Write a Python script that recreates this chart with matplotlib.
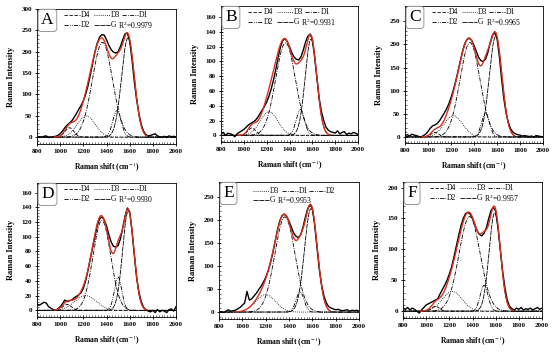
"""Raman spectra with D4/D3/D1/D2/G band deconvolution, six samples."""

import matplotlib.pyplot as plt
import numpy as np
from matplotlib.ticker import AutoMinorLocator, MultipleLocator

plt.rcParams["font.family"] = "Liberation Serif"
plt.rcParams["mathtext.fontset"] = "stix"

# Raman shift grid of the measured spectra (cm-1)
SHIFT = list(range(800, 2001, 20))

SPEC_A = [0, 1, 0, 2, 3, -1, 0, 1, 2, 4, 8, 14, 22, 28, 33, 38, 46, 55, 65, 74,
          85, 100, 120, 145, 172, 200, 220, 234, 240, 239, 228, 215, 205, 199, 197,
          200, 212, 228, 242, 244, 225, 182, 130, 88, 55, 30, 14, 6, 3, 4, 6, 8, 3,
          1, 0, 2, 0, 3, 1, 2, 0]
SPEC_B = [2, 4, 0, 3, 2, 1, -2, 2, 4, 6, 8, 11, 14, 16, 18, 20, 24, 29, 34, 39,
          45, 53, 63, 75, 89, 105, 119, 128, 131, 127, 120, 112, 106, 103, 102,
          106, 115, 126, 134, 137, 130, 106, 78, 50, 32, 20, 11, 7, 5, 4, 3, 6, 2,
          4, 5, 1, 3, 2, 4, 3, 1]
SPEC_C = [3, 5, 2, 6, 4, 3, 1, 0, 3, 6, 12, 19, 24, 26, 29, 35, 43, 51, 60, 71,
          85, 101, 120, 141, 163, 185, 202, 211, 213, 209, 198, 185, 172, 165, 163,
          168, 182, 203, 220, 225, 214, 175, 125, 82, 50, 30, 17, 10, 7, 5, 4, 2, 3,
          2, 1, 2, 0, 3, 2, 1, 0]
SPEC_D = [8, 7, 9, 11, 10, 5, 3, 1, 0, 2, 5, 9, 14, 12, 13, 14, 17, 19, 21, 24,
          30, 40, 54, 70, 85, 100, 115, 124, 127, 123, 115, 103, 93, 87, 86,
          88, 97, 112, 128, 139, 134, 108, 75, 45, 25, 12, 4, 1, -1, -2, 0, -3, 1,
          -2, 0, -1, -3, 1, 2, -1, 5]
SPEC_E = [0, 1, -1, 2, 5, 2, 3, 4, 7, 10, 15, 20, 45, 26, 29, 35, 41, 49, 56, 65,
          75, 89, 106, 127, 152, 178, 198, 210, 213, 208, 198, 185, 172, 165, 162,
          168, 185, 206, 225, 233, 226, 190, 140, 92, 58, 35, 20, 12, 9, 7, 5, 6, 4,
          3, 4, 5, 2, 4, 3, 4, 2]
SPEC_F = [5, 3, 6, 2, 5, 3, 0, -3, 2, 6, 10, 12, 14, 16, 18, 20, 28, 35, 42, 50,
          60, 72, 88, 105, 122, 138, 150, 158, 160, 157, 150, 140, 130, 124, 122,
          126, 135, 150, 163, 168, 162, 135, 100, 65, 38, 18, 8, 4, 2, 5, 3, 6, 2,
          4, 3, 5, 2, 4, 6, 3, 5]

# fitted bands: (centre cm-1, height, FWHM)
PEAKS_A = {"D4": (1080, 22, 90), "D3": (1225, 50, 180), "D1": (1365, 222, 205),
           "D2": (1490, 62, 85), "G": (1585, 232, 130)}
PEAKS_B = {"D4": (1070, 10, 80), "D3": (1220, 32, 180), "D1": (1365, 125, 205),
           "D2": (1495, 35, 85), "G": (1588, 130, 120)}
PEAKS_C = {"D4": (1060, 10, 80), "D3": (1220, 46, 190), "D1": (1365, 204, 205),
           "D2": (1500, 52, 80), "G": (1588, 217, 130)}
PEAKS_D = {"D4": (1060, 8, 90), "D3": (1220, 20, 220), "D1": (1360, 122, 180),
           "D2": (1500, 45, 75), "G": (1588, 135, 115)}
PEAKS_E = {"D3": (1200, 38, 200), "D1": (1365, 207, 205), "D2": (1495, 44, 80),
           "G": (1588, 225, 130)}
PEAKS_F = {"D4": (1080, 8, 80), "D3": (1225, 32, 200), "D1": (1375, 153, 215),
           "D2": (1500, 42, 80), "G": (1592, 159, 115)}

LETTERS = ["A", "B", "C", "D", "E", "F"]
R2 = ["0.9979", "0.9931", "0.9965", "0.9930", "0.9953", "0.9957"]
Y_MAX = [300, 160, 250, 160, 250, 200]
Y_STEP = [50, 20, 50, 20, 50, 50]
Y_LIM = [(-16, 300), (-9, 175), (-13, 283), (-9, 173), (-15, 283), (-11, 209)]

SPECTRA = [SPEC_A, SPEC_B, SPEC_C, SPEC_D, SPEC_E, SPEC_F]
PEAKS = [PEAKS_A, PEAKS_B, PEAKS_C, PEAKS_D, PEAKS_E, PEAKS_F]

# axes boxes in pixels: left, right, top, bottom
BOXES = [(37, 176, 9, 144), (221, 358, 6, 142), (405, 543, 6, 143),
         (37, 176, 183, 317), (219, 359, 182, 319), (403, 542, 182, 318)]

STYLES = {
    "D4": (0, (4, 2)),
    "D3": (0, (1, 1.5)),
    "D1": (0, (5, 1.5, 1, 1.5)),
    "D2": (0, (5, 1.5, 1, 1.5, 1, 1.5)),
    "G": (0, (6, 1)),
}

# legend slots (axes fraction): (line start x, row y)
LEGEND_FULL = {"D4": (0.195, 0.955), "D3": (0.41, 0.955), "D1": (0.61, 0.955),
               "D2": (0.195, 0.88), "G": (0.41, 0.88), "R2": (0.585, 0.88)}
LEGEND_E = {"D3": (0.24, 0.935), "D1": (0.45, 0.935), "D2": (0.645, 0.935),
            "G": (0.24, 0.865), "R2": (0.415, 0.865)}

W, H = 554, 352


def band(x, centre, height, fwhm):
    return height * np.exp(-4 * np.log(2) * (x - centre) ** 2 / fwhm ** 2)


fig = plt.figure(figsize=(W / 100, H / 100), dpi=100)
grid = np.linspace(800, 2000, 601)
fit_mask = (grid >= 950) & (grid <= 1750)

for i in range(6):
    left, right, top, bottom = BOXES[i]
    ax = fig.add_axes([left / W, 1 - bottom / H, (right - left) / W, (bottom - top) / H])

    ax.plot(SHIFT, SPECTRA[i], color="black", linewidth=1.0, zorder=3)

    total = np.zeros_like(grid)
    for name, (c, h, w) in PEAKS[i].items():
        y = band(grid, c, h, w)
        total += y
        ax.plot(grid, y, color="black", linewidth=0.6, linestyle=STYLES[name])
    ax.plot(grid[fit_mask], total[fit_mask], color="#d7301f", linewidth=1.0, zorder=4)

    # hand-placed legend to match the two-row layout of the original
    slots = LEGEND_FULL if "D4" in PEAKS[i] else LEGEND_E
    for name, (x0, y0) in slots.items():
        if name == "R2":
            ax.text(x0, y0, f"R$^2$={R2[i]}", transform=ax.transAxes, fontsize=5.5, va="center")
            continue
        ax.plot([x0, x0 + 0.115], [y0, y0], transform=ax.transAxes, color="black",
                linewidth=0.6, linestyle=STYLES[name])
        ax.text(x0 + 0.12, y0, name, transform=ax.transAxes, fontsize=5.5, va="center")

    ax.text(0.03, 0.975, LETTERS[i], transform=ax.transAxes, fontsize=12.5, va="top",
            ha="left", bbox=dict(boxstyle="round,pad=0.18", fc="white", ec="#888888", lw=0.6))

    ax.set_xlim(800, 2000)
    ax.set_ylim(*Y_LIM[i])
    ax.xaxis.set_major_locator(MultipleLocator(200))
    ax.xaxis.set_minor_locator(AutoMinorLocator(8))
    ax.set_yticks(np.arange(0, Y_MAX[i] + 1, Y_STEP[i]))
    ax.yaxis.set_minor_locator(AutoMinorLocator(5))
    ax.tick_params(which="major", direction="inout", length=3, width=0.6, labelsize=5, pad=2)
    ax.tick_params(which="minor", direction="in", length=1.5, width=0.4)
    for lab in ax.get_xticklabels() + ax.get_yticklabels():
        lab.set_fontweight("bold")
    for sp in ax.spines.values():
        sp.set_linewidth(0.6)

    ax.set_xlabel("Raman shift (cm$^{-1}$)", fontsize=5.5, fontweight="bold", labelpad=5)
    ax.set_ylabel("Raman Intensity", fontsize=6, fontweight="bold", labelpad=5)

fig.savefig("out.png", dpi=100)
